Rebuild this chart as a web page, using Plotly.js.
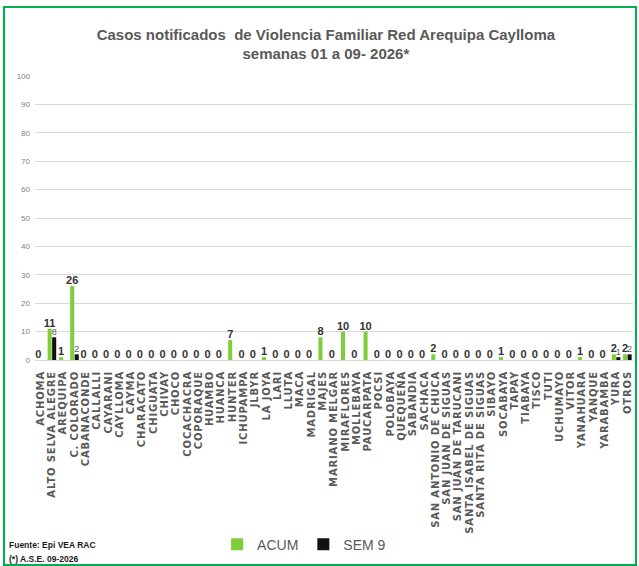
<!DOCTYPE html>
<html>
<head>
<meta charset="utf-8">
<script src="https://cdn.plot.ly/plotly-3.0.1.min.js"></script>
<style>
  html, body { margin: 0; padding: 0; background: #fff; }
  #wrap { position: relative; width: 639px; height: 566px; }
  #chart { width: 639px; height: 566px; }
  #frame { position: absolute; left: 3px; top: 6px; width: 630px; height: 556px;
           border: 2px solid #00B050; pointer-events: none; }
  #chart .xtick text { letter-spacing: 0.85px; }
</style>
</head>
<body>
<div id="wrap">
  <div id="chart"></div>
  <div id="frame"></div>
</div>
<script>
const categories = ["ACHOMA","ALTO SELVA ALEGRE","AREQUIPA","C. COLORADO","CABANACONDE","CALLALLI","CAYARANI","CAYLLOMA","CAYMA","CHARACATO","CHIGUATA","CHIVAY","CHOCO","COCACHACRA","COPORAQUE","HUAMBO","HUANCA","HUNTER","ICHUPAMPA","JLBYR","LA JOYA","LARI","LLUTA","MACA","MADRIGAL","MAJES","MARIANO MELGAR","MIRAFLORES","MOLLEBAYA","PAUCARPATA","POCSI","POLOBAYA","QUEQUEÑA","SABANDIA","SACHACA","SAN ANTONIO DE CHUCA","SAN JUAN DE SIGUAS","SAN JUAN DE TARUCANI","SANTA ISABEL DE SIGUAS","SANTA RITA DE SIGUAS","SIBAYO","SOCABAYA","TAPAY","TIABAYA","TISCO","TUTI","UCHUMAYO","VITOR","YANAHUARA","YANQUE","YARABAMBA","YURA","OTROS"];
const acum = [0,11,1,26,0,0,0,0,0,0,0,0,0,0,0,0,0,7,0,0,1,0,0,0,0,8,0,10,0,10,0,0,0,0,0,2,0,0,0,0,0,1,0,0,0,0,0,0,1,0,0,2,2];
const sem9 = [0,8,0,2,0,0,0,0,0,0,0,0,0,0,0,0,0,0,0,0,0,0,0,0,0,0,0,0,0,0,0,0,0,0,0,0,0,0,0,0,0,0,0,0,0,0,0,0,0,0,0,1,2];
const yTicks = [0,10,20,30,40,50,60,70,80,90,100];
const titleLine1 = "Casos notificados  de Violencia Familiar Red Arequipa Caylloma";
const titleLine2 = "semanas 01 a 09- 2026*";
const source1 = "Fuente: Epi VEA RAC";
const source2 = "(*) A.S.E. 09-2026";

const NARROW = "'Liberation Sans Narrow', 'Arial Narrow', 'Liberation Sans', sans-serif";

const traces = [
  {
    type: 'bar', name: 'ACUM', x: categories, y: acum,
    text: acum.map(String), textposition: 'outside', cliponaxis: false,
    constraintext: 'none',
    textfont: { family: NARROW, size: 11, color: '#333333', weight: 'bold' },
    marker: { color: '#7DCE3A' }
  },
  {
    type: 'bar', name: 'SEM 9', x: categories, y: sem9,
    text: sem9.map(v => v > 0 ? String(v) : ''), textposition: 'outside', cliponaxis: false,
    constraintext: 'none',
    textfont: { family: NARROW, size: 9, color: '#595959' },
    marker: { color: '#111111' }
  }
];

const layout = {
  width: 639, height: 566,
  margin: { l: 35, r: 6, t: 76, b: 204 },
  paper_bgcolor: '#ffffff', plot_bgcolor: '#ffffff',
  barmode: 'group', bargap: 0.2, bargroupgap: 0.1,
  title: {
    text: titleLine1 + '<br>' + titleLine2,
    font: { family: NARROW, size: 15, color: '#595959', weight: 'bold' },
    x: 0.51, xanchor: 'center', y: 0.93, yanchor: 'middle', yref: 'container'
  },
  xaxis: {
    type: 'category', tickmode: 'linear', tick0: 0, dtick: 1, tickangle: -90,
    showgrid: false, ticks: '', showline: false,
    tickfont: { family: "'DejaVu Sans', Verdana, sans-serif", size: 10, color: '#595959', weight: 'bold' },
    ticklabelstandoff: 8, automargin: false
  },
  yaxis: {
    range: [0, 100], tickvals: yTicks, showgrid: true, gridcolor: '#d9d9d9', gridwidth: 1,
    zeroline: true, zerolinecolor: '#d9d9d9', zerolinewidth: 1, showline: false, ticks: '',
    tickfont: { family: NARROW, size: 8, color: '#7f7f7f' }, ticklabelstandoff: 4, automargin: false
  },
  showlegend: true,
  legend: {
    orientation: 'h', x: 0.45, xanchor: 'center', y: -0.65, yanchor: 'middle',
    font: { family: NARROW, size: 14, color: '#595959' }, itemwidth: 30, traceorder: 'normal'
  },
  annotations: [
    { text: source1, xref: 'paper', yref: 'paper', x: -0.047, y: -0.65, xanchor: 'left', yanchor: 'middle',
      showarrow: false, font: { family: NARROW, size: 8.5, color: '#1a1a1a', weight: 'bold' } },
    { text: source2, xref: 'paper', yref: 'paper', x: -0.047, y: -0.7, xanchor: 'left', yanchor: 'middle',
      showarrow: false, font: { family: NARROW, size: 8.5, color: '#1a1a1a', weight: 'bold' } }
  ]
};

Plotly.newPlot('chart', traces, layout, { displayModeBar: false, staticPlot: true });
</script>
</body>
</html>
